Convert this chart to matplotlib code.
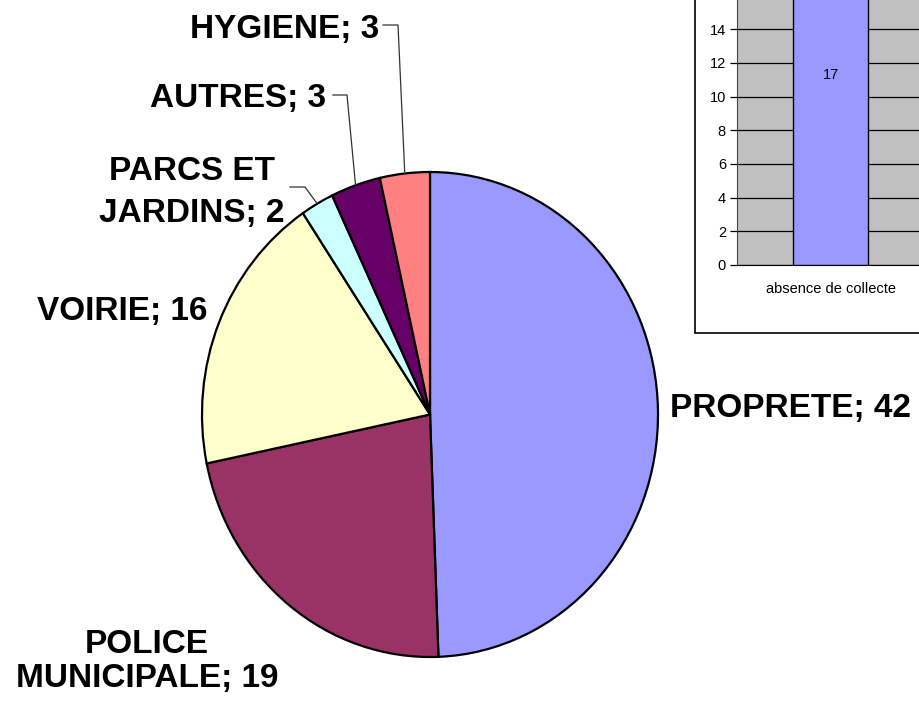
import matplotlib.pyplot as plt
from matplotlib.patches import Rectangle
import numpy as np

plt.rcParams['font.family'] = ['Liberation Sans', 'DejaVu Sans']

# donnees du camembert (ordre horaire depuis midi)
categories = ['PROPRETE', 'POLICE\nMUNICIPALE', 'VOIRIE', 'PARCS ET\nJARDINS', 'AUTRES', 'HYGIENE']
valeurs = [42, 19, 16, 2, 3, 3]
couleurs = ['#9999FF', '#993366', '#FFFFCC', '#CCFFFF', '#660066', '#FF8080']

# donnees de l'histogramme en encart
barres_cat = ['absence de collecte']
barres_val = [17]

W, H = 920, 706
fig = plt.figure(figsize=(W / 100, H / 100), dpi=100)


def boite(x0, y0, x1, y1):
    # pixels (y vers le bas) -> coordonnees figure
    return [x0 / W, 1 - y1 / H, (x1 - x0) / W, (y1 - y0) / H]


# camembert (legerement ovale comme l'original)
cx, cy, rx, ry = 430, 414.5, 228, 242.5
ax = fig.add_axes(boite(cx - rx, cy - ry, cx + rx, cy + ry))
wedges, _ = ax.pie(valeurs, colors=couleurs, startangle=90, counterclock=False,
                   wedgeprops=dict(edgecolor='black', linewidth=1.6))
ax.set_xlim(-1, 1)
ax.set_ylim(-1, 1)
ax.set_aspect('auto')
ax.axis('off')

# calque en pixels pour les etiquettes
ov = fig.add_axes([0, 0, 1, 1])
ov.set_xlim(0, W)
ov.set_ylim(H, 0)
ov.axis('off')

style = dict(fontsize=24, fontweight='bold', va='baseline')
# (x, y de la derniere ligne de base, alignement, interligne) des etiquettes
positions = [(670, 417, 'left', 1.2), (147, 687, 'center', 1.12), (37, 320, 'left', 1.2),
             (192, 222, 'center', 1.45), (150, 107, 'left', 1.2), (190, 38, 'left', 1.2)]
for nom, v, (x, y, ha, ls) in zip(categories, valeurs, positions):
    ov.text(x, y, f'{nom}; {v}', ha=ha, multialignment='center', linespacing=ls, **style)

# traits de rappel pour les petites parts
coudes = {3: [(290, 187), (305, 187)], 4: [(333, 95), (347, 95)], 5: [(383, 25), (398, 25)]}
for i, pts in coudes.items():
    w = wedges[i]
    a = np.radians((w.theta1 + w.theta2) / 2)
    ex, ey = cx + rx * np.cos(a), cy - ry * np.sin(a)
    xs = [p[0] for p in pts] + [ex]
    ys = [p[1] for p in pts] + [ey]
    ov.plot(xs, ys, color='#333333', lw=0.9)

# encart histogramme
fig.add_artist(Rectangle((695 / W, 1 - 333 / H), 1, 1, transform=fig.transFigure,
                         facecolor='white', edgecolor='black', lw=1.2, zorder=1))
bx = fig.add_axes(boite(737, 265 - 18 * 16.85, 924.5, 265))
bx.set_zorder(2)
bx.set_facecolor('#C0C0C0')
bx.bar(barres_cat, barres_val, width=0.4, color='#9999FF', edgecolor='black', lw=1, zorder=3)
bx.set_xlim(-0.5, 0.5)
bx.set_ylim(0, 18)
bx.set_yticks(range(0, 17, 2), [str(t) if t < 16 else '' for t in range(0, 17, 2)])
bx.grid(axis='y', color='black', lw=0.9, zorder=0)
bx.set_axisbelow(True)
for s in ['top', 'right']:
    bx.spines[s].set_visible(False)
bx.spines['left'].set_color('#444444')
bx.spines['bottom'].set_color('black')
bx.tick_params(axis='y', labelsize=10.5, length=5, width=0.9, pad=3)
bx.tick_params(axis='x', labelsize=10.5, length=0, pad=12)
for c, v in zip(barres_cat, barres_val):
    bx.text(c, 11.3, str(v), ha='center', va='center', fontsize=10.5)

fig.savefig('out.png', dpi=100)
